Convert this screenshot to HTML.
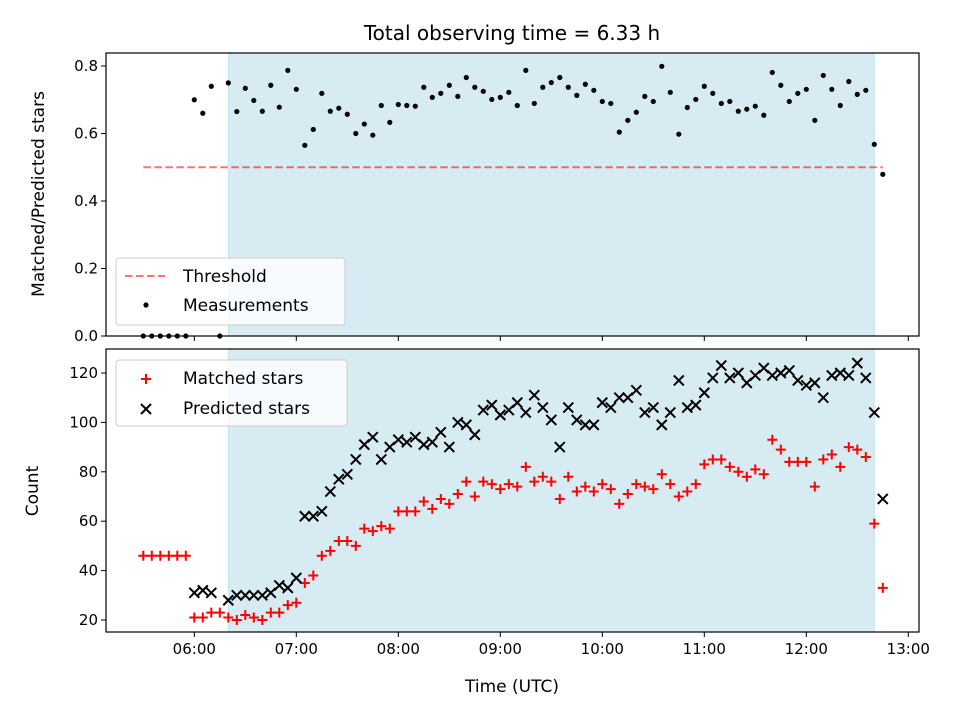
<!DOCTYPE html>
<html><head><meta charset="utf-8"><style>
html,body{margin:0;padding:0;background:#fff}
svg{display:block;font-family:"DejaVu Sans","Liberation Sans",sans-serif}
</style></head><body>
<svg id="fig" width="960" height="720" viewBox="0 0 960 720" xmlns="http://www.w3.org/2000/svg">
<rect x="0" y="0" width="960" height="720" fill="#fff"/>
<text x="512" y="40" text-anchor="middle" font-size="20" fill="#000">Total observing time = 6.33 h</text>
<g id="topPanel"></g>
<g id="botPanel"></g>
<text x="512" y="692" text-anchor="middle" font-size="17">Time (UTC)</text>
<text transform="translate(44,194) rotate(-90)" text-anchor="middle" font-size="17">Matched/Predicted stars</text>
<text transform="translate(38,491) rotate(-90)" text-anchor="middle" font-size="17">Count</text>
</svg>
<script>
const times = ["05:30","05:35","05:40","05:45","05:50","05:55","06:00","06:05","06:10","06:15","06:20","06:25","06:30","06:35","06:40","06:45","06:50","06:55","07:00","07:05","07:10","07:15","07:20","07:25","07:30","07:35","07:40","07:45","07:50","07:55","08:00","08:05","08:10","08:15","08:20","08:25","08:30","08:35","08:40","08:45","08:50","08:55","09:00","09:05","09:10","09:15","09:20","09:25","09:30","09:35","09:40","09:45","09:50","09:55","10:00","10:05","10:10","10:15","10:20","10:25","10:30","10:35","10:40","10:45","10:50","10:55","11:00","11:05","11:10","11:15","11:20","11:25","11:30","11:35","11:40","11:45","11:50","11:55","12:00","12:05","12:10","12:15","12:20","12:25","12:30","12:35","12:40","12:45"];
const ratio = [0,0,0,0,0,0,0.70,0.66,0.74,0,
0.75,0.665,0.734,0.698,0.666,0.743,0.678,0.787,0.731,0.565,0.612,0.719,0.666,0.675,0.657,0.600,0.628,0.595,0.683,0.633,0.686,0.683,0.681,0.737,0.707,0.719,0.743,0.710,0.766,0.737,0.725,0.701,0.707,0.722,
0.683,0.787,0.689,0.737,0.751,0.766,0.737,0.713,0.746,0.728,0.695,0.689,0.604,0.639,0.663,0.710,0.695,0.799,0.722,0.598,0.677,0.701,0.740,0.719,0.689,0.695,0.666,0.672,0.681,0.654,0.781,0.743,0.695,0.719,0.731,0.639,0.772,0.731,0.683,0.754,0.716,0.728,0.568,0.479];
const matched = [46,46,46,46,46,46,
21,21,23,23,21,20,22,21,20,23,23,26,27,35,38,46,48,52,52,50,57,56,58,57,64,64,64,68,65,69,67,71,76,70,76,75,73,75,
74,82,76,78,76,69,78,72,74,72,75,73,67,71,75,74,73,79,75,70,72,75,83,85,85,82,80,78,81,79,93,89,84,84,84,74,85,87,82,90,89,86,59,33];
const predicted = [null,null,null,null,null,null,
31,32,31,null,28,30,30,30,30,31,34,33,37,62,62,64,72,77,79,85,91,94,85,90,93,92,94,91,92,96,90,100,99,95,105,107,103,105,
108,104,111,106,101,90,106,101,99,99,108,106,110,110,113,104,106,99,104,117,106,107,112,118,123,118,120,116,119,122,119,120,121,117,115,116,110,119,120,119,124,118,104,69];
const xTicks = ["06:00","07:00","08:00","09:00","10:00","11:00","12:00","13:00"];
const topYTicks = [0.0,0.2,0.4,0.6,0.8];
const botYTicks = [20,40,60,80,100,120];
const threshold = 0.5;
const spanStart = "06:20", spanEnd = "12:40";
const thrStart = "05:30", thrEnd = "12:45";

const NS="http://www.w3.org/2000/svg";
const L=106,R=919;
function mins(t){const p=t.split(":");return (+p[0])*60+(+p[1]);}
function X(t){return 194.3+(mins(t)-360)*1.7;}
function Ytop(v){return 336-v*337.5;}
function Ybot(v){return 620-(v-20)*2.47;}
function mk(tag,attrs,parent){const e=document.createElementNS(NS,tag);for(const k in attrs)e.setAttribute(k,attrs[k]);parent.appendChild(e);return e;}

function panel(g,y0,y1,yTicks,Y,fmt,showLabels){
  const sp=mk("rect",{x:X(spanStart),y:y0,width:X(spanEnd)-X(spanStart),height:y1-y0,fill:"#add8e6","fill-opacity":0.5,stroke:"#add8e6","stroke-opacity":0.6},g);
  
  
  xTicks.forEach(t=>{
    const x=X(t);
    const tk=mk("line",{x1:x,x2:x,y1:y1,y2:y1+5,stroke:"#000","stroke-width":1},g);
    
    
    if(showLabels){
      const tl=mk("text",{x:x,y:y1+22,"text-anchor":"middle","font-size":15},g);
      tl.textContent=t;
      
      
    }
  });
  yTicks.forEach(v=>{
    const y=Y(v);
    const tk=mk("line",{x1:L-5,x2:L,y1:y,y2:y,stroke:"#000","stroke-width":1},g);
    
    
    const tl=mk("text",{x:L-8,y:y+5,"text-anchor":"end","font-size":15},g);
    tl.textContent=fmt(v);
    
    
  });
}

const topG=document.getElementById("topPanel");
panel(topG,53,336,topYTicks,Ytop,v=>v.toFixed(1),false);
const thr=mk("line",{x1:X(thrStart),x2:X(thrEnd),y1:Ytop(threshold),y2:Ytop(threshold),stroke:"#ff0000","stroke-opacity":0.55,"stroke-width":2,"stroke-dasharray":"7.5,3.5"},topG);


times.forEach((t,i)=>{
  if(ratio[i]==null)return;
  const c=mk("circle",{cx:X(t),cy:Ytop(ratio[i]),r:2.6,fill:"#000"},topG);
  
  
});
const tf=mk("rect",{x:L,y:53,width:R-L,height:283,fill:"none",stroke:"#000","stroke-width":1.2},topG);


const lg1=mk("g",{},topG);


mk("rect",{x:116,y:258,width:229,height:67,rx:3,fill:"#fff","fill-opacity":0.8,stroke:"#ccc"},lg1);
mk("line",{x1:125,x2:165,y1:276,y2:276,stroke:"#ff0000","stroke-opacity":0.55,"stroke-width":2,"stroke-dasharray":"7.5,3.5"},lg1);
mk("circle",{cx:146,cy:305,r:2.6,fill:"#000"},lg1);
const l1a=mk("text",{x:183,y:282,"font-size":17},lg1);l1a.textContent="Threshold";


const l1b=mk("text",{x:183,y:311,"font-size":17},lg1);l1b.textContent="Measurements";



const botG=document.getElementById("botPanel");
panel(botG,349,632,botYTicks,Ybot,v=>String(v),true);
times.forEach((t,i)=>{
  if(matched[i]==null)return;
  const x=X(t),y=Ybot(matched[i]);
  const p=mk("path",{d:`M${x-5},${y}H${x+5}M${x},${y-5}V${y+5}`,stroke:"#ff0000","stroke-width":2},botG);
  
  
});
times.forEach((t,i)=>{
  if(predicted[i]==null)return;
  const x=X(t),y=Ybot(predicted[i]);
  const p=mk("path",{d:`M${x-5},${y-5}L${x+5},${y+5}M${x-5},${y+5}L${x+5},${y-5}`,stroke:"#000","stroke-width":2},botG);
  
  
});
const bf=mk("rect",{x:L,y:349,width:R-L,height:283,fill:"none",stroke:"#000","stroke-width":1.2},botG);


const lg2=mk("g",{},botG);


mk("rect",{x:116,y:360,width:231,height:66,rx:3,fill:"#fff","fill-opacity":0.8,stroke:"#ccc"},lg2);
mk("path",{d:"M141,379H151M146,374V384",stroke:"#ff0000","stroke-width":2},lg2);
mk("path",{d:"M141,404L151,414M141,414L151,404",stroke:"#000","stroke-width":2},lg2);
const l2a=mk("text",{x:183,y:384,"font-size":17},lg2);l2a.textContent="Matched stars";


const l2b=mk("text",{x:183,y:414,"font-size":17},lg2);l2b.textContent="Predicted stars";


</script>
</body></html>
